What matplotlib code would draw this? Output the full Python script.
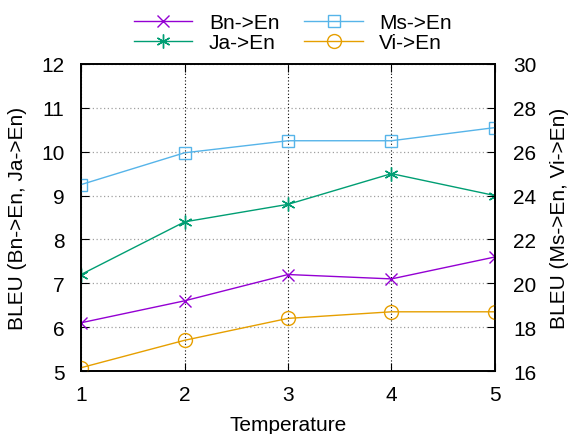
import matplotlib.pyplot as plt

plt.rcParams['font.family'] = ['Liberation Sans', 'DejaVu Sans']

temperature = [1, 2, 3, 4, 5]
bn_en = [6.1, 6.6, 7.2, 7.1, 7.6]
ja_en = [7.2, 8.4, 8.8, 9.5, 9.0]
ms_en = [24.5, 25.95, 26.5, 26.5, 27.1]
vi_en = [16.15, 17.4, 18.4, 18.7, 18.7]

fig = plt.figure(figsize=(5.8, 4.35), dpi=100)
ax = fig.add_axes([0.1397, 0.1448, 0.7137, 0.7058])
ax2 = ax.twinx()

l1, = ax.plot(temperature, bn_en, color='#9400d3', marker='x', ms=9, mew=1, lw=1, label='Bn->En')
l2, = ax.plot(temperature, ja_en, color='#009e73', marker=(6, 2, 0), ms=10, mew=1, lw=1, label='Ja->En')
l3, = ax2.plot(temperature, ms_en, color='#56b4e9', marker='s', ms=9, mfc='none', mew=1, lw=1, label='Ms->En')
l4, = ax2.plot(temperature, vi_en, color='#e69f00', marker='o', ms=10, mfc='none', mew=1, lw=1, label='Vi->En')

ax.set_xlim(1, 5)
ax.set_ylim(5, 12)
ax2.set_ylim(16, 30)
ax.set_xticks(temperature)
ax.set_yticks(range(5, 13))
ax2.set_yticks(range(16, 31, 2))

ax.grid(True, color='#a0a0a0', linestyle=(0, (1, 2)), lw=0.9)
ax.xaxis.grid(True, color='black', linestyle=(0, (1, 2)), lw=0.8)

ax.tick_params(axis='x', direction='in', length=6, labelsize=15, top=True, pad=10)
ax.tick_params(axis='y', direction='in', length=6, labelsize=15, pad=12)
ax2.tick_params(axis='y', direction='in', length=6, labelsize=15, pad=13)
for a in (ax, ax2):
    for s in a.spines.values():
        s.set_linewidth(1.2)

ax.set_xlabel('Temperature', fontsize=15, labelpad=8)
ax.set_ylabel('BLEU (Bn->En, Ja->En)', fontsize=15, labelpad=10)
ax2.set_ylabel('BLEU (Ms->En, Vi->En)', fontsize=15, labelpad=10)

fig.legend(handles=[l1, l2, l3, l4], ncol=2, loc='upper center',
           bbox_to_anchor=(0.505, 1.01), frameon=False, fontsize=15,
           handlelength=2.8, columnspacing=1.2, labelspacing=0.05, handletextpad=0.8)

fig.savefig('out.png', dpi=100)
